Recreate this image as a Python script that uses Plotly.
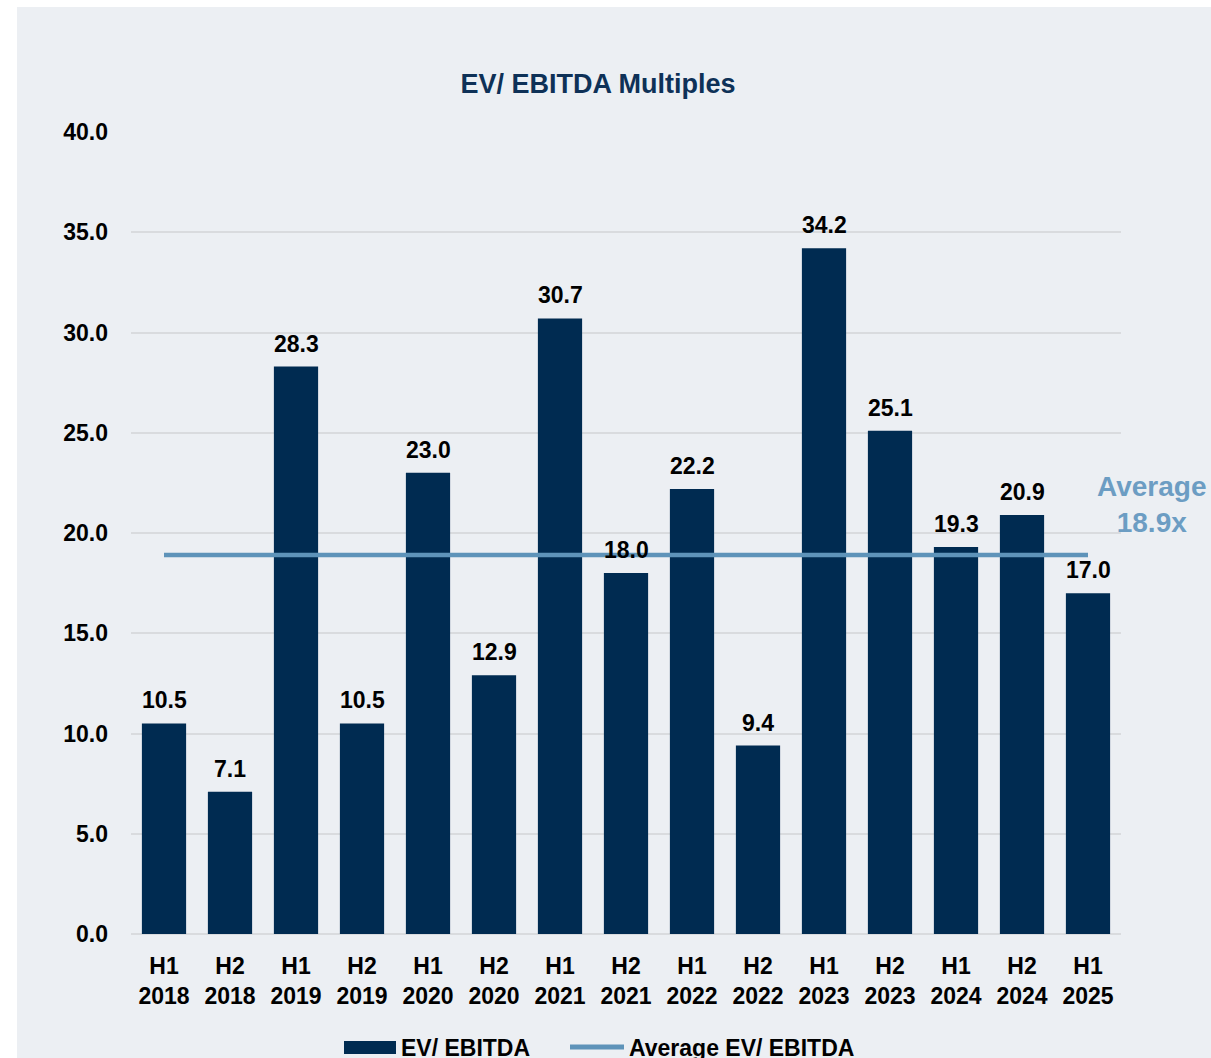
import plotly.graph_objects as go

# ---- data ----
halves = ["H1", "H2", "H1", "H2", "H1", "H2", "H1", "H2", "H1", "H2", "H1", "H2", "H1", "H2", "H1"]
years = ["2018", "2018", "2019", "2019", "2020", "2020", "2021", "2021", "2022", "2022", "2023", "2023", "2024", "2024", "2025"]
ev_ebitda = [10.5, 7.1, 28.3, 10.5, 23.0, 12.9, 30.7, 18.0, 22.2, 9.4, 34.2, 25.1, 19.3, 20.9, 17.0]
average_value = 18.9
y_ticks = [0, 5, 10, 15, 20, 25, 30, 35, 40]

tick_labels = [f"{h}<br>{y}" for h, y in zip(halves, years)]
x_pos = list(range(len(ev_ebitda)))

BAR = "#002B51"
LINE = "#5E93B9"
AVG_TXT = "#6C9DC3"
TITLE = "#0E3157"
FONT = "Liberation Sans, Arial, sans-serif"

W, H = 1211, 1058
PL, PR, PT, PB = 131, 1121, 132, 934  # plot area in pixels


def px(xp):
    return (xp - PL) / (PR - PL)


def py(yp):
    return (PB - yp) / (PB - PT)


fig = go.Figure()
fig.add_trace(go.Bar(
    x=x_pos, y=ev_ebitda, name="EV/ EBITDA",
    marker=dict(color=BAR, line=dict(width=0)),
    width=0.67, showlegend=False,
))
fig.add_trace(go.Scatter(
    x=x_pos, y=[average_value] * len(x_pos), name="Average EV/ EBITDA",
    mode="lines", line=dict(color=LINE, width=4.5), showlegend=False,
))

annotations = []
for xi, v in zip(x_pos, ev_ebitda):
    annotations.append(dict(
        x=xi, y=v, xref="x", yref="y", text=f"<b>{v:.1f}</b>",
        showarrow=False, yanchor="bottom", yshift=8,
        font=dict(family=FONT, size=23, color="#000000"),
    ))

# Average label
annotations.append(dict(
    x=px(1151), y=py(505), xref="paper", yref="paper",
    text=f"<b>Average<br>{average_value:.1f}x</b>", showarrow=False,
    xanchor="center", yanchor="middle", align="center",
    font=dict(family=FONT, size=28, color=AVG_TXT),
))

# Custom legend texts
annotations.append(dict(
    x=px(399), y=py(1048), xref="paper", yref="paper",
    text="<b>EV/ EBITDA</b>", showarrow=False, xanchor="left", yanchor="middle",
    font=dict(family=FONT, size=23, color="#000000"),
))
annotations.append(dict(
    x=px(627), y=py(1048), xref="paper", yref="paper",
    text="<b>Average EV/ EBITDA</b>", showarrow=False, xanchor="left", yanchor="middle",
    font=dict(family=FONT, size=23, color="#000000"),
))

shapes = [
    # background panel
    dict(type="rect", xref="paper", yref="paper", x0=px(17), x1=px(1215), y0=py(1062), y1=py(7),
         fillcolor="#ECEFF3", line=dict(width=0), layer="below"),
    # legend swatches
    dict(type="rect", xref="paper", yref="paper", x0=px(344), x1=px(396),
         y0=py(1054), y1=py(1041), fillcolor=BAR, line=dict(width=0)),
    dict(type="line", xref="paper", yref="paper", x0=px(570), x1=px(624),
         y0=py(1047), y1=py(1047), line=dict(color=LINE, width=5)),
]

fig.update_layout(
    width=W, height=H,
    margin=dict(l=PL, r=W - PR, t=PT, b=H - PB, autoexpand=False),
    paper_bgcolor="#FFFFFF", plot_bgcolor="rgba(0,0,0,0)",
    title=dict(text="<b>EV/ EBITDA Multiples</b>", x=598 / W, xanchor="center",
               y=1 - 84 / H, yanchor="middle", font=dict(family=FONT, size=27, color=TITLE)),
    font=dict(family=FONT, color="#000000"),
    bargap=0.33,
    shapes=shapes,
    annotations=annotations,
    showlegend=False,
)
fig.update_xaxes(
    range=[-0.5, len(x_pos) - 0.5], tickmode="array", tickvals=x_pos, ticktext=[f"<b>{t}</b>" for t in tick_labels],
    showgrid=False, zeroline=False, showline=False, ticks="",
    tickfont=dict(family=FONT, size=23, color="#000000"), ticklabelstandoff=16,
)
fig.update_yaxes(
    range=[0, 40], tickmode="array", tickvals=y_ticks, ticktext=[f"<b>{v:.1f}</b>" for v in y_ticks],
    showgrid=True, gridcolor="#D9DBDE", gridwidth=2, zeroline=True, zerolinecolor="#D9DBDE", zerolinewidth=2,
    showline=False, ticks="", tickfont=dict(family=FONT, size=23, color="#000000"), ticklabelstandoff=22,
)

fig.write_html("out.html", config={"displayModeBar": False},
               post_script="document.body.style.margin='0';document.body.style.overflow='hidden';")
